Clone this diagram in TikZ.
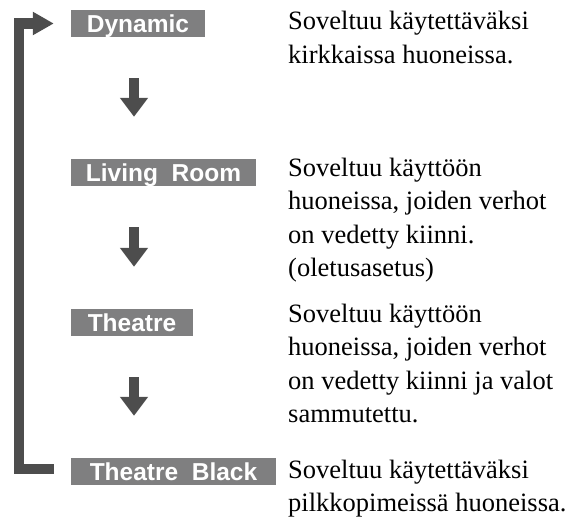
\documentclass[tikz,border=0pt]{standalone}
\usepackage{fontspec}
\setmainfont{Liberation Serif}
\newfontfamily\boxfont{Liberation Sans}
\usetikzlibrary{arrows.meta}
\definecolor{boxgray}{HTML}{7F7F80}
\definecolor{arrowgray}{HTML}{4D4D4D}
\newcommand\desclines[1]{\vtop{\baselineskip=33.5pt\lineskiplimit=-100pt #1}}
\tikzset{
  modebox/.style={fill=boxgray, text=white, inner xsep=0pt, inner ysep=0pt,
    minimum height=27pt, text height=17.6pt, text depth=0pt,
    font=\boxfont\bfseries\fontsize{24.5}{28}\selectfont},
  desc/.style={anchor=base west, inner sep=0pt, font=\fontsize{26.5}{33.5}\selectfont},
  downarrow/.style={draw=arrowgray, line width=10.7pt,
    -{Triangle[width=27pt,length=19pt]}, shorten <=41pt, shorten >=42pt},
  looparrow/.style={draw=arrowgray, line width=10.5pt, line join=miter,
    -{Triangle[width=22pt,length=21pt]}}
}
\begin{document}
\begin{tikzpicture}
\useasboundingbox (0,0) rectangle (578pt,-517pt);
% mode boxes
\node[modebox, minimum width=134pt] (dyn) at (138pt,-23.5pt) {Dynamic};
\node[modebox, minimum width=185pt] (liv) at (163.5pt,-172.5pt) {Living\ \ Room};
\node[modebox, minimum width=122pt] (the) at (132pt,-322.5pt) {Theatre};
\node[modebox, minimum width=205pt] (tbl) at (173.5pt,-471.5pt) {Theatre\ \ Black};
% descriptions
\node[desc] (d1) at (288pt,-29.5pt) {\desclines{\hbox{Soveltuu käytettäväksi}\hbox{kirkkaissa huoneissa.}}};
\node[desc] (d2) at (288pt,-176pt) {\desclines{\hbox{Soveltuu käyttöön}\hbox{huoneissa, joiden verhot}\hbox{on vedetty kiinni.}\hbox{(oletusasetus)}}};
\node[desc] (d3) at (288pt,-322pt) {\desclines{\hbox{Soveltuu käyttöön}\hbox{huoneissa, joiden verhot}\hbox{on vedetty kiinni ja valot}\hbox{sammutettu.}}};
\node[desc] (d4) at (288pt,-478pt) {\desclines{\hbox{Soveltuu käytettäväksi}\hbox{pilkkopimeissä huoneissa.}}};
% down arrows
\coordinate (ax) at (134pt,0);
\draw[downarrow] (dyn.south -| ax) -- (liv.north -| ax);
\draw[downarrow] (liv.south -| ax) -- (the.north -| ax);
\draw[downarrow] (the.south -| ax) -- (tbl.north -| ax);
% return arrow
\coordinate (lx) at (19pt,0);
\coordinate (bstart) at ([xshift=-17pt,yshift=2.5pt]tbl.west);
\draw[looparrow] (bstart) -- (bstart -| lx) -- (dyn.west -| lx) -- ([xshift=-17pt]dyn.west);
\end{tikzpicture}
\end{document}
